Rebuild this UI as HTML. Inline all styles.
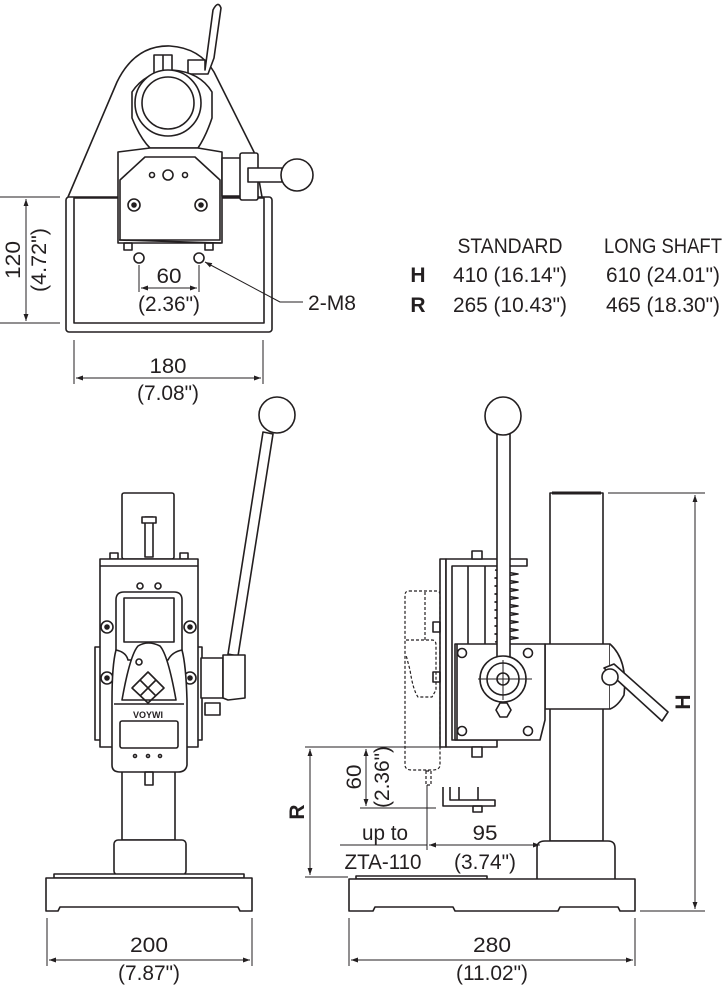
<!DOCTYPE html>
<html><head><meta charset="utf-8"><style>
html,body{margin:0;padding:0;background:#fff}
svg{display:block}
text{font-family:"Liberation Sans Narrow","Liberation Sans",sans-serif;fill:#231f20}
</style></head><body>
<svg width="726" height="987" viewBox="0 0 726 987" xmlns="http://www.w3.org/2000/svg">
<defs>
<marker id="a" viewBox="0 0 10 10" refX="10" refY="5" markerWidth="7" markerHeight="7" orient="auto-start-reverse"><path d="M0,1.5 L10,5 L0,8.5z" fill="#231f20"/></marker>
</defs>
<g fill="none" stroke="#231f20" stroke-width="1.6" stroke-linejoin="round">
<!-- TOP VIEW -->
<path d="M68,197 L117,82 Q135,45 170,46 Q200,48 214,72 L254,152 L262,197" fill="#fff"/>
<rect x="66" y="197" width="206" height="135" rx="3" fill="#fff"/>
<rect x="74" y="198" width="190" height="125" fill="#fff"/>
<path d="M205,70 L213,10 Q218,0 221,8 L214,58 L208,74 L188,74 L188,60 L205,60z" fill="#fff"/>
<path d="M132,92 L132,118 Q140,138 150,148 L198,148 Q206,136 212,118 L212,92 Q200,72 172,70 Q145,72 132,92z" fill="#fff"/>
<rect x="154" y="55" width="18" height="20" fill="#fff"/>
<line x1="163" y1="55" x2="163" y2="75"/>
<circle cx="168" cy="103" r="33" fill="#fff"/>
<circle cx="168" cy="103" r="26"/>
<path d="M118,152 L150,148 L198,148 L222,152 L222,243 L118,243z" fill="#fff"/>
<path d="M120,180 L145,157 L195,157 L220,180 L220,240 L120,240z"/>
<line x1="119" y1="240" x2="221" y2="243"/>
<rect x="124" y="243" width="8" height="7"/><rect x="205" y="243" width="8" height="7"/>
<circle cx="134" cy="205" r="6"/><circle cx="134" cy="205" r="2" fill="#231f20"/>
<circle cx="201" cy="205" r="6"/><circle cx="201" cy="205" r="2" fill="#231f20"/>
<circle cx="152" cy="175" r="2.5"/><circle cx="168" cy="175" r="5"/><circle cx="185" cy="175" r="2.5"/>
<circle cx="139" cy="258" r="5"/><circle cx="199" cy="258" r="5"/>
<rect x="222" y="158" width="20" height="38" fill="#fff"/>
<rect x="240" y="153" width="18" height="47" rx="2" fill="#fff"/>
<rect x="248" y="168" width="34" height="14" fill="#fff"/>
<circle cx="297" cy="175" r="16" fill="#fff"/>
<!-- top dims -->
<g stroke-width="1">
<line x1="0" y1="197" x2="60" y2="197"/><line x1="0" y1="323" x2="60" y2="323"/>
<line x1="26" y1="199" x2="26" y2="321" marker-start="url(#a)" marker-end="url(#a)"/>
<line x1="139" y1="265" x2="139" y2="292"/><line x1="199" y1="265" x2="199" y2="292"/>
<line x1="141" y1="288" x2="197" y2="288" marker-start="url(#a)" marker-end="url(#a)"/>
<polyline points="205,262 280,302 303,302" marker-start="url(#a)"/>
<line x1="74" y1="340" x2="74" y2="384"/><line x1="263" y1="340" x2="263" y2="384"/>
<line x1="76" y1="378" x2="261" y2="378" marker-start="url(#a)" marker-end="url(#a)"/>
</g>

<!-- FRONT VIEW -->
<path d="M263,432 L273,434 L238,656 L228,654z" fill="#fff"/>
<circle cx="277" cy="415" r="18" fill="#fff"/>
<rect x="122" y="493" width="52" height="66" rx="2" fill="#fff"/>
<rect x="145" y="517" width="8" height="40" fill="#fff"/>
<rect x="142" y="517" width="14" height="6" fill="#fff"/>
<rect x="110" y="553" width="8" height="6"/><rect x="180" y="553" width="8" height="6"/>
<rect x="95" y="647" width="6" height="93" fill="#fff"/>
<rect x="196" y="647" width="6" height="93" fill="#fff"/>
<rect x="100" y="559" width="98" height="188" fill="#fff"/>
<line x1="100" y1="566" x2="198" y2="566"/>
<rect x="201" y="658" width="22" height="40" fill="#fff"/>
<path d="M223,655 L245,655 L245,698 L228,700 L223,698z" fill="#fff"/>
<rect x="205" y="703" width="15" height="12" fill="#fff"/>
<rect x="122" y="770" width="53" height="70" fill="#fff"/>
<rect x="114" y="840" width="72" height="35" rx="4" fill="#fff"/>
<rect x="54" y="874" width="190" height="4" fill="#fff"/>
<path d="M46,878 L252,878 L252,911 L240,911 L238,907 L60,907 L58,911 L46,911z" fill="#fff"/>
<circle cx="140" cy="586" r="3"/><circle cx="158" cy="586" r="3"/>
<circle cx="107" cy="627" r="6"/><circle cx="107" cy="627" r="2" fill="#231f20"/>
<circle cx="190" cy="627" r="6"/><circle cx="190" cy="627" r="2" fill="#231f20"/>
<circle cx="107" cy="678" r="6"/><circle cx="107" cy="678" r="2" fill="#231f20"/>
<circle cx="190" cy="678" r="6"/><circle cx="190" cy="678" r="2" fill="#231f20"/>
<path d="M116,650 L116,600 Q116,592 124,592 L174,592 Q182,592 182,600 L182,650" fill="#fff"/>
<rect x="124" y="598" width="50" height="44" fill="#fff"/>
<path d="M116,650 Q126,652 128,660 L168,660 Q172,652 182,650 Q186,665 187,700 L187,765 Q186,772 178,772 L120,772 Q112,772 112,765 L112,700 Q112,665 116,650z" fill="#fff"/>
<path d="M122,700 Q130,655 138,646 Q148,640 160,646 Q168,655 176,700z" fill="#fff"/>
<path d="M148,672 L164,688 L148,703 L132,688z"/>
<line x1="140" y1="680" x2="156" y2="696"/><line x1="156" y1="680" x2="140" y2="696"/>
<circle cx="139" cy="662" r="3"/>
<line x1="114" y1="704" x2="184" y2="704"/>
<rect x="120" y="721" width="58" height="27" rx="2"/>
<circle cx="135" cy="756" r="1.5"/><circle cx="148" cy="756" r="1.5"/><circle cx="160" cy="756" r="1.5"/>
<rect x="145" y="772" width="8" height="13"/>
<!-- front dims -->
<g stroke-width="1">
<line x1="47" y1="918" x2="47" y2="966"/><line x1="252" y1="918" x2="252" y2="966"/>
<line x1="49" y1="960" x2="250" y2="960" marker-start="url(#a)" marker-end="url(#a)"/>
</g>

<!-- SIDE VIEW -->
<rect x="550" y="493" width="53" height="348" fill="#fff"/>
<line x1="552" y1="493" x2="601" y2="493" stroke-width="3"/>
<path d="M537,880 L537,848 Q537,841 545,841 L608,841 Q615,841 615,848 L615,880" fill="#fff"/>
<rect x="356" y="876" width="131" height="3" fill="#fff"/>
<path d="M349,879 L635,879 L635,911 L620,911 L618,907 L560,907 L558,911 L455,911 L453,907 L375,907 L373,911 L349,911z" fill="#fff"/>
<rect x="440" y="559" width="6" height="188" fill="#fff"/>
<path d="M446,559 L527,559 L527,566 L452,566 L452,740 L497,740 L497,747 L446,747z" fill="#fff"/>
<rect x="472" y="551" width="10" height="8" fill="#fff"/><rect x="472" y="747" width="10" height="10" fill="#fff"/>
<line x1="468" y1="566" x2="468" y2="644"/><line x1="485" y1="566" x2="485" y2="644"/>
<polyline points="495,570 518,574 495,578 518,582 495,586 518,590 495,594 518,598 495,602 518,606 495,610 518,614 495,618 518,622 495,626 518,630 495,634 518,638 495,642"/>
<rect x="545" y="644" width="65" height="65" fill="#fff"/>
<path d="M610,644 Q628,660 624,695 Q618,706 610,709" fill="#fff"/>
<path d="M604,668 L614,664 L668,712 L662,721z" fill="#fff"/>
<circle cx="610" cy="677" r="8" fill="#fff"/>
<path d="M455,644 L545,644 L545,720 L540,740 L455,740z" fill="#fff"/>
<line x1="457" y1="644" x2="457" y2="740"/>
<circle cx="462" cy="653" r="4.5"/><circle cx="528" cy="653" r="4.5"/>
<circle cx="462" cy="731" r="4.5"/><circle cx="528" cy="731" r="4.5"/>
<rect x="497" y="434" width="13" height="245" fill="#fff"/>
<ellipse cx="503" cy="416" rx="18" ry="19" fill="#fff"/>
<circle cx="503" cy="679" r="23" fill="#fff"/><circle cx="503" cy="679" r="16"/><circle cx="503" cy="679" r="6"/>
<line x1="478" y1="679" x2="532" y2="679" stroke-width="1"/><line x1="503" y1="660" x2="503" y2="700" stroke-width="1"/>
<path d="M496,710 L500,703 L507,703 L511,710 L507,717 L500,717z" fill="#fff"/>
<rect x="433" y="622" width="7" height="10"/><rect x="433" y="672" width="7" height="10"/>
<g stroke-dasharray="3,2" stroke-width="1.2">
<path d="M409,591 L437,591 Q440,591 440,595 L440,765 Q440,770 432,770 L412,770 Q405,770 405,765 L405,595 Q405,591 409,591z"/>
<line x1="425" y1="592" x2="425" y2="640"/>
<path d="M406,640 L432,640 Q436,640 436,645 L436,690 L432,697 L418,697 Q413,690 410,670 L406,655"/>
<rect x="426" y="771" width="5" height="14"/>
</g>
<path d="M443,787 L443,806 L495,806 L495,800 L450,800 L450,787" fill="#fff"/>
<line x1="459" y1="787" x2="459" y2="800"/><line x1="478" y1="787" x2="478" y2="800"/>
<rect x="473" y="806" width="9" height="6"/>
<!-- side dims -->
<g stroke-width="1">
<line x1="305" y1="747" x2="440" y2="747"/><line x1="305" y1="877" x2="348" y2="877"/>
<line x1="310" y1="749" x2="310" y2="875" marker-start="url(#a)" marker-end="url(#a)"/>
<line x1="360" y1="808" x2="436" y2="808"/>
<line x1="366" y1="749" x2="366" y2="806" marker-start="url(#a)" marker-end="url(#a)"/>
<line x1="427" y1="785" x2="427" y2="850"/>
<line x1="340" y1="845" x2="427" y2="845"/>
<line x1="429" y1="845" x2="540" y2="845" marker-start="url(#a)" marker-end="url(#a)"/>
<line x1="608" y1="493" x2="705" y2="493"/><line x1="640" y1="911" x2="705" y2="911"/>
<line x1="695" y1="495" x2="695" y2="909" marker-start="url(#a)" marker-end="url(#a)"/>
<line x1="349" y1="918" x2="349" y2="966"/><line x1="635" y1="918" x2="635" y2="966"/>
<line x1="351" y1="960" x2="633" y2="960" marker-start="url(#a)" marker-end="url(#a)"/>
</g>
</g>
<!-- TEXT -->
<g font-size="21" text-anchor="middle">
<text x="0" y="0" transform="translate(20,260) rotate(-90)" textLength="38" lengthAdjust="spacingAndGlyphs">120</text>
<text x="0" y="0" transform="translate(46,260) rotate(-90)" textLength="64" lengthAdjust="spacingAndGlyphs">(4.72")</text>
<text x="169" y="283" textLength="25" lengthAdjust="spacingAndGlyphs">60</text>
<text x="169" y="311" textLength="62" lengthAdjust="spacingAndGlyphs">(2.36")</text>
<text x="332" y="310" textLength="48" lengthAdjust="spacingAndGlyphs">2-M8</text>
<text x="168" y="373" textLength="37" lengthAdjust="spacingAndGlyphs">180</text>
<text x="168" y="400" textLength="62" lengthAdjust="spacingAndGlyphs">(7.08")</text>
<text x="510" y="253" textLength="105" lengthAdjust="spacingAndGlyphs">STANDARD</text>
<text x="663" y="253" textLength="118" lengthAdjust="spacingAndGlyphs">LONG SHAFT</text>
<text x="418" y="282" font-weight="bold">H</text>
<text x="418" y="312" font-weight="bold">R</text>
<text x="510" y="282" textLength="114" lengthAdjust="spacingAndGlyphs">410 (16.14")</text>
<text x="663" y="282" textLength="114" lengthAdjust="spacingAndGlyphs">610 (24.01")</text>
<text x="510" y="312" textLength="114" lengthAdjust="spacingAndGlyphs">265 (10.43")</text>
<text x="663" y="312" textLength="114" lengthAdjust="spacingAndGlyphs">465 (18.30")</text>
<text x="149" y="952" textLength="38" lengthAdjust="spacingAndGlyphs">200</text>
<text x="149" y="980" textLength="62" lengthAdjust="spacingAndGlyphs">(7.87")</text>
<text x="492" y="952" textLength="38" lengthAdjust="spacingAndGlyphs">280</text>
<text x="492" y="980" textLength="72" lengthAdjust="spacingAndGlyphs">(11.02")</text>
<text x="0" y="0" transform="translate(304,812) rotate(-90)" font-weight="bold">R</text>
<text x="0" y="0" transform="translate(690,702) rotate(-90)" font-weight="bold">H</text>
<text x="0" y="0" transform="translate(361,777) rotate(-90)" textLength="25" lengthAdjust="spacingAndGlyphs">60</text>
<text x="0" y="0" transform="translate(389,777) rotate(-90)" textLength="62" lengthAdjust="spacingAndGlyphs">(2.36")</text>
<text x="385" y="840" textLength="46" lengthAdjust="spacingAndGlyphs">up to</text>
<text x="383" y="869" textLength="77" lengthAdjust="spacingAndGlyphs">ZTA-110</text>
<text x="485" y="840" textLength="25" lengthAdjust="spacingAndGlyphs">95</text>
<text x="485" y="869" textLength="62" lengthAdjust="spacingAndGlyphs">(3.74")</text>
</g>
<text x="148" y="718" font-size="9" font-weight="bold" text-anchor="middle">VOYWI</text>
</svg>
</body></html>
